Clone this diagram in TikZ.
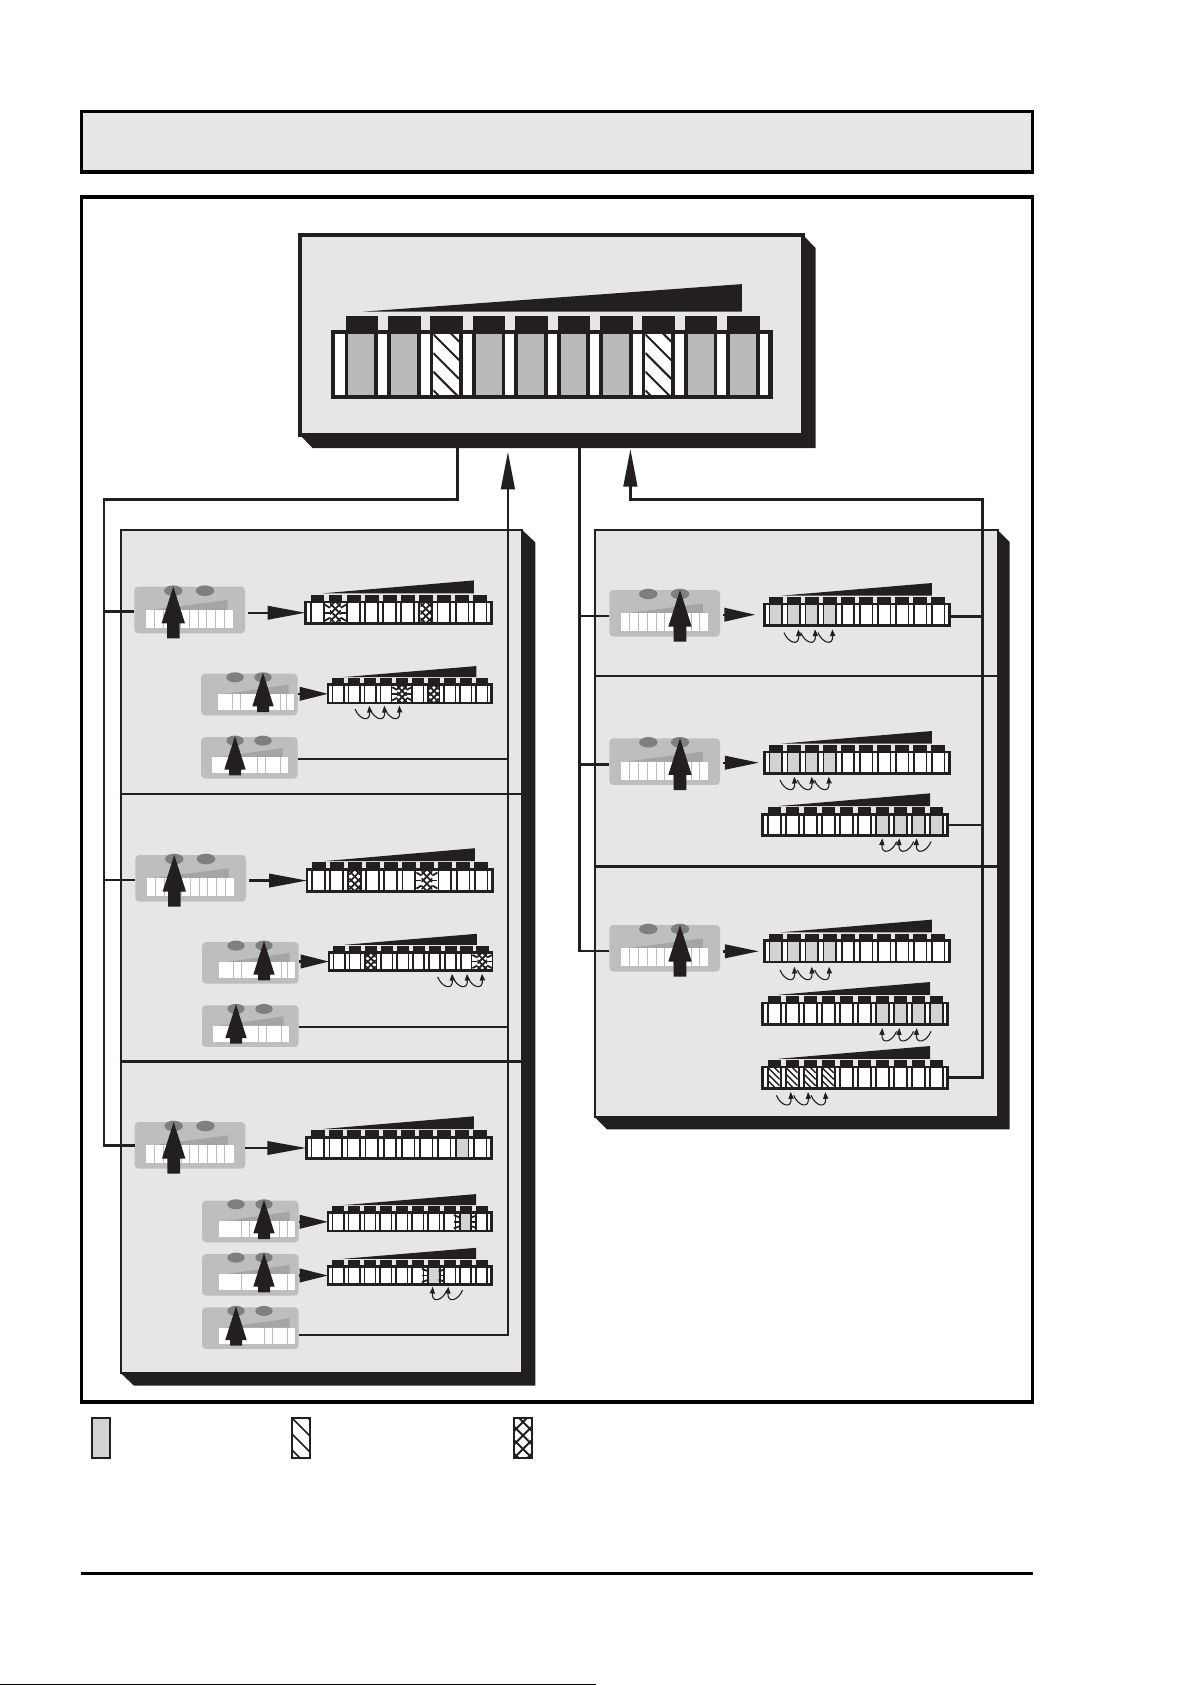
\documentclass[tikz,border=0pt]{standalone}
\usetikzlibrary{arrows.meta}

\definecolor{ink}{HTML}{231F20}
\definecolor{panelgray}{HTML}{E6E6E6}
\definecolor{cardgray}{HTML}{BEBEBE}
\definecolor{ovalgray}{HTML}{7F7F7F}
\definecolor{rampgray}{HTML}{A5A5A5}
\definecolor{bargray}{HTML}{BABABA}
\definecolor{softgray}{HTML}{D2D2D2}

\tikzset{
  plainbox/.style={rectangle,inner sep=0pt,outer sep=0pt,draw=ink},
  headerbox/.style={plainbox,draw=black,fill=panelgray,line width=1.7pt},
  framebox/.style={plainbox,draw=black,line width=1.7pt},
  mainbox/.style={plainbox,fill=panelgray,line width=2pt},
  sidebox/.style={plainbox,fill=panelgray,line width=1pt},
  stripframe/.style={plainbox,fill=white},
  legendbox/.style={plainbox,fill=white,line width=1pt},
  cardbox/.style={rectangle,inner sep=0pt,outer sep=0pt,fill=cardgray,rounded corners=2pt},
  busline/.style={draw=ink,line width=1.3pt},
  flowline/.style={draw=ink,line width=1.2pt,-{Triangle[length=#1,width=6.7pt]}},
  hopline/.style={draw=ink,line width=.55pt,-{Triangle[length=3.4pt,width=2.6pt]}},
  sidetick/.style={draw=ink,line width=.9pt}
}

% defaults of the small strips
\def\frameT{2.7}\def\wedgeL{.092}\def\wedgeR{.90}\def\divF{.0098}
\def\capF{.24}\def\wedgeF{.53}\def\gapF{.05}\def\hatchW{.7pt}

\newcommand{\boxat}[6]{%
  \node[#1,anchor=north west,minimum width={(#5-#3)*.5pt},minimum height={(#6-#4)*.5pt}] (#2) at (#3,#4) {};}

\newcommand{\drawpanel}[8]{%
  \fill[ink] (#5,#4) -- ({#5+#7},{#4+#8}) -- ({#5+#7},{#6+#8}) -- ({#3+#7},{#6+#8}) -- (#3,#6) -- cycle;
  \boxat{#1}{#2}{#3}{#4}{#5}{#6}}

\newcommand{\hatchlines}{%
  \foreach \kk in {-3,...,6}
    \draw[ink,line width=\hatchW] (\cellL,{\cellT+\kk*\hatchS}) -- (\cellR,{\cellT+\kk*\hatchS+\cellR-\cellL});}
\newcommand{\crosslines}{%
  \foreach \kk in {-3,...,6}
    \draw[ink,line width=\hatchW] (\cellR,{\cellT+\kk*\crossS}) -- (\cellL,{\cellT+\kk*\crossS+\cellR-\cellL});}
\newcommand{\cellkindw}{}
\newcommand{\cellkindg}{\fill[bargray] (\cellL,\cellT) rectangle (\cellR,\cellB);}
\newcommand{\cellkindl}{\fill[softgray] (\cellL,\cellT) rectangle (\cellR,\cellB);}
\newcommand{\cellkindh}{%
  \begin{scope}
    \clip (\cellL,\cellT) rectangle (\cellR,\cellB);
    \hatchlines
  \end{scope}}
\newcommand{\cellkindx}{%
  \begin{scope}
    \def\hatchS{\crossS}\def\hatchW{.85pt}
    \clip (\cellL,\cellT) rectangle (\cellR,\cellB);
    \hatchlines
    \crosslines
  \end{scope}}
\newcommand{\sideticks}[1]{%
  \pgfmathsetmacro\midY{(\cellT+\cellB)/2}
  \pgfmathsetmacro\spanY{\cellB-\cellT}
  \foreach \sx/\sg in {\cellL/-1,\cellR/1} {
    \draw[sidetick] (\sx,\midY) -- ({\sx+\sg*#1},\midY);
    \draw[sidetick] (\sx,{\midY-.26*\spanY}) -- ({\sx+\sg*#1},{\midY-.42*\spanY});
    \draw[sidetick] (\sx,{\midY+.26*\spanY}) -- ({\sx+\sg*#1},{\midY+.42*\spanY});
  }}
\newcommand{\cellkindX}{%
  \fill[white] ({\cellL-5},\cellT) rectangle ({\cellR+5},\cellB);
  \cellkindx
  \sideticks{5}}
\newcommand{\cellkindt}{%
  \fill[white] ({\cellL-5},\cellT) rectangle ({\cellR+5},\cellB);
  \fill[ink] ({\cellL-2},\cellT) rectangle ({\cellR+2},\cellB);
  \cellkindl
  \sideticks{7}}

% name, x, y, width, height, the ten cells
\newcommand{\drawstrip}[6]{%
  \pgfmathsetmacro\stripX{#2+\frameT/2}
  \pgfmathsetmacro\stripY{#3+\frameT/2}
  \pgfmathsetmacro\stripW{#4-\frameT}
  \pgfmathsetmacro\stripH{#5-\frameT}
  \pgfmathsetmacro\capH{#5*\capF}
  \pgfmathsetmacro\hatchS{#5*.27}
  \pgfmathsetmacro\crossS{#5*.3}
  \pgfmathsetmacro\divW{#4*\divF}
  \pgfmathsetmacro\cellT{#3+\frameT}
  \pgfmathsetmacro\cellB{#3+#5-\frameT}
  \node[stripframe,line width={\frameT*.5pt},anchor=north west,minimum width={\stripW*.5pt},minimum height={\stripH*.5pt}] (#1) at (\stripX,\stripY) {};
  \pgfmathsetmacro\wedgeB{#3-\capH-#5*\gapF}
  \fill[ink] ({#2+#4*\wedgeL},\wedgeB) -- ({#2+#4*\wedgeR},{\wedgeB-#5*\wedgeF}) -- ({#2+#4*\wedgeR},\wedgeB) -- cycle;
  \foreach \kk in {0,...,9}
    \fill[ink] ({#2+#4*(.033+.096*\kk)},{#3-\capH}) rectangle ({#2+#4*(.1066+.096*\kk)},{#3+1});
  \foreach \st [count=\i from 0] in {#6} {
    \pgfmathsetmacro\cellL{#2+#4*(.0396+.096*\i)}
    \pgfmathsetmacro\cellR{\cellL+#4*.0585}
    \fill[ink] ({\cellL-\divW},\cellT) rectangle ({\cellR+\divW},\cellB);
    \fill[white] (\cellL,\cellT) rectangle (\cellR,\cellB);
    \csname cellkind\st\endcsname
  }}

\def\cardbig{\def\cardW{110.7}\def\cardH{46.6}\def\ovalA{39}\def\ovalB{70.7}\def\ovalY{4}%
  \def\ovalRX{4.6pt}\def\ovalRY{2.65pt}\def\whiteW{87.4}\def\whiteT{23.3}\def\whiteB{41.3}\def\rampT{13.3}%
  \def\tipY{0}\def\baseY{36.6}\def\tailY{51.7}\def\headW{11.7}\def\shaftW{6.3}}
\def\cardsmall{\def\cardW{96.7}\def\cardH{41.6}\def\ovalA{34}\def\ovalB{62}\def\ovalY{3.6}%
  \def\ovalRX{4.35pt}\def\ovalRY{2.5pt}\def\whiteW{76}\def\whiteT{20.3}\def\whiteB{36.3}\def\rampT{11}%
  \def\tipY{-1}\def\baseY{32.7}\def\tailY{38.3}\def\headW{10.7}\def\shaftW{6}}
\def\keysbig{8.7,17.5,26.2,34.9,43.7,52.4,61.1,69.9,78.6}

% size, name, x, y, oval under the arrow, start of the white keys, key gaps
\newcommand{\drawcard}[7]{%
  #1%
  \edef\keylist{#7}%
  \node[cardbox,anchor=north west,minimum width={\cardW*.5pt},minimum height={\cardH*.5pt}] (#2) at (#3,#4) {};
  \fill[ovalgray] ({#3+\ovalA},{#4+\ovalY}) ellipse [x radius=\ovalRX,y radius=\ovalRY];
  \fill[ovalgray] ({#3+\ovalB},{#4+\ovalY}) ellipse [x radius=\ovalRX,y radius=\ovalRY];
  \fill[rampgray] ({#3+#6+5.5},{#4+\whiteT}) -- ({#3+#6+\whiteW-5.5},{#4+\rampT}) -- ({#3+#6+\whiteW-5.5},{#4+\whiteT}) -- cycle;
  \fill[white] ({#3+#6},{#4+\whiteT}) rectangle ({#3+#6+\whiteW},{#4+\whiteB});
  \foreach \gapX in \keylist
    \draw[cardgray,line width=.4pt] ({#3+#6+\gapX},{#4+\whiteT}) -- ({#3+#6+\gapX},{#4+\whiteB});
  \pgfmathsetmacro\arrowX{#3+#5}
  \fill[ink] (\arrowX,{#4+\tipY}) -- ({\arrowX+\headW},{#4+\baseY}) -- ({\arrowX+\shaftW},{#4+\baseY})
    -- ({\arrowX+\shaftW},{#4+\tailY}) -- ({\arrowX-\shaftW},{#4+\tailY}) -- ({\arrowX-\shaftW},{#4+\baseY})
    -- ({\arrowX-\headW},{#4+\baseY}) -- cycle;}

% level of the arrow tips, the tips, side of the tails
\newcommand{\hops}[3]{%
  \foreach \tx in {#2}
    \draw[hopline] ({\tx-(#3)*14.3},{#1+3.3}) .. controls ({\tx-(#3)*10},{#1+14}) and ({\tx+(#3)*1},{#1+17}) .. (\tx,#1);}

\begin{document}
\begin{tikzpicture}[x=.5pt,y=-.5pt]
  \useasboundingbox (0,0) rectangle (1191,1685);

  \boxat{headerbox}{header}{81.7}{111.7}{1032.4}{172}
  \boxat{framebox}{frame}{81.7}{197}{1032.4}{1402}

  \drawpanel{mainbox}{topbox}{300}{235}{803}{435}{12.5}{13}
  \drawpanel{sidebox}{panelL}{121}{530}{522.3}{1373.3}{13}{12.4}
  \drawpanel{sidebox}{panelR}{595}{530}{997.6}{1117.3}{12}{12}

  \draw[busline] (121,794) -- (522.3,794);
  \draw[busline] (121,1061.7) -- (522.3,1061.7);
  \draw[busline] (595,676) -- (997.6,676);
  \draw[busline] (595,866.7) -- (997.6,866.7);

  \begin{scope}
    \def\frameT{4.4}\def\wedgeL{.07}\def\wedgeR{.93}\def\divF{.0085}
    \def\capF{.203}\def\wedgeF{.40}\def\gapF{.062}\def\hatchW{1pt}
    \drawstrip{bigstrip}{331}{330}{441.8}{69}{g,g,h,g,g,g,g,h,g,g}
  \end{scope}

  \coordinate (outL) at (457.5,440);
  \coordinate (outR) at (579.6,440);
  \coordinate (inL) at (507.9,451.7);
  \coordinate (inR) at (630.4,449);
  \coordinate (busL) at (104,499.3);
  \coordinate (busR) at (982.7,499.3);

  % left column
  \drawcard{\cardbig}{cardA1}{134.3}{586.7}{\ovalA}{11.4}{\keysbig}
  \drawstrip{stripA1}{304.3}{600.5}{188.5}{24.5}{w,X,w,w,w,w,x,w,w,w}
  \drawcard{\cardsmall}{cardA2}{201}{673.7}{\ovalB}{17}{14.3,22.7,62,68}
  \drawstrip{stripA2}{326.7}{683.3}{166.3}{21}{w,w,w,w,X,w,x,w,w,w}
  \drawcard{\cardsmall}{cardA3}{201}{737}{\ovalA}{11}{45.3,53.3,68.7}
  \hops{705.7}{369.3,384.3,399.3}{1}

  \drawcard{\cardbig}{cardB1}{135.3}{855}{\ovalA}{11.4}{\keysbig}
  \drawstrip{stripB1}{305.7}{868.3}{188}{24.5}{w,w,x,w,w,w,X,w,w,w}
  \drawcard{\cardsmall}{cardB2}{202}{942}{\ovalB}{17}{14.3,22.7,62,68}
  \drawstrip{stripB2}{327.7}{951}{165.7}{21}{w,w,x,w,w,w,w,w,w,X}
  \drawcard{\cardsmall}{cardB3}{202}{1005.3}{\ovalA}{11}{45.3,53.3,68.7}
  \hops{973.7}{452,467,482}{1}

  \drawcard{\cardbig}{cardC1}{134.7}{1122}{\ovalA}{11.4}{\keysbig}
  \drawstrip{stripC1}{305}{1136}{187.7}{24}{w,w,w,w,w,w,w,w,l,w}
  \drawcard{\cardsmall}{cardC2}{202}{1200.7}{\ovalB}{17}{22,30,60,68}
  \drawstrip{stripC2}{326.7}{1211.3}{166}{21}{w,w,w,w,w,w,w,w,t,w}
  \drawcard{\cardsmall}{cardC3}{202}{1254}{\ovalB}{17}{22,68}
  \drawstrip{stripC3}{326.7}{1265}{166}{21}{w,w,w,w,w,w,t,w,w,w}
  \drawcard{\cardsmall}{cardC4}{202}{1307.3}{\ovalA}{17}{45.3,53.3,68}
  \hops{1286.7}{432.7,448.3}{-1}

  % right column
  \drawcard{\cardbig}{cardR1}{609.3}{590}{\ovalB}{11.7}{\keysbig}
  \drawstrip{stripR1}{763}{602.7}{187.7}{24}{l,l,l,l,w,w,w,w,w,w}
  \hops{629.3}{798.3,815,832.3}{1}

  \drawcard{\cardbig}{cardR2}{609.3}{738.3}{\ovalB}{11.7}{\keysbig}
  \drawstrip{stripR2a}{763}{750.7}{187.7}{24}{l,l,l,l,w,w,w,w,w,w}
  \hops{776.7}{794.3,811.7,828.7}{1}
  \drawstrip{stripR2b}{761.3}{813}{187.7}{24}{w,w,w,w,w,w,l,l,l,l}
  \hops{838.3}{882.3,899.3,916.7}{-1}

  \drawcard{\cardbig}{cardR3}{609.3}{925}{\ovalB}{11.7}{\keysbig}
  \drawstrip{stripR3a}{763}{939.3}{187.7}{24}{l,l,l,l,w,w,w,w,w,w}
  \hops{966.7}{794.3,811.7,829}{1}
  \drawstrip{stripR3b}{761.3}{1001.7}{187.7}{24}{w,w,w,w,w,w,l,l,l,l}
  \hops{1028}{882.3,899.3,916.7}{-1}
  \drawstrip{stripR3c}{761.3}{1065.7}{187.7}{24}{h,h,h,h,w,w,w,w,w,w}
  \hops{1092}{790.7,808,825.3}{1}

  % arrows from card to strip
  \draw[flowline=19pt] ([xshift=1.5pt]cardA1.east |- stripA1.west) -- (stripA1.west);
  \draw[flowline=14.2pt] (cardA2.east |- stripA2.west) -- (stripA2.west);
  \draw[flowline=19pt] ([xshift=1.5pt]cardB1.east |- stripB1.west) -- (stripB1.west);
  \draw[flowline=14.2pt] (cardB2.east |- stripB2.west) -- (stripB2.west);
  \draw[flowline=19.5pt] (cardC1.east |- stripC1.west) -- (stripC1.west);
  \draw[flowline=14.2pt] (cardC2.east |- stripC2.west) -- (stripC2.west);
  \draw[flowline=14.2pt] (cardC3.east |- stripC3.west) -- (stripC3.west);
  \draw[flowline=15.5pt] ([xshift=1.5pt]cardR1.east |- stripR1.west) -- ([xshift=-4.5pt]stripR1.west);
  \draw[flowline=17pt] ([xshift=1.5pt]cardR2.east |- stripR2a.west) -- ([xshift=-2.7pt]stripR2a.west);
  \draw[flowline=17pt] ([xshift=1.5pt]cardR3.east |- stripR3a.west) -- ([xshift=-2.7pt]stripR3a.west);

  % lines out of the main box
  \draw[busline] (outL) -- (outL |- busL) -- (busL) -- (busL |- cardC1.west) -- (cardC1.west);
  \draw[busline] ([yshift=-.8pt]busL |- cardA1.west) -- ([yshift=-.8pt]cardA1.west);
  \draw[busline] ([yshift=-.8pt]busL |- cardB1.west) -- ([yshift=-.8pt]cardB1.west);
  \draw[busline] (outR) -- ([yshift=-1.3pt]outR |- cardR3.west) -- ([yshift=-1.3pt]cardR3.west);
  \draw[busline] ([yshift=-1.3pt]outR |- cardR1.west) -- ([yshift=-1.3pt]cardR1.west);
  \draw[busline] ([yshift=-1.3pt]outR |- cardR2.west) -- ([yshift=-1.3pt]cardR2.west);

  % lines back to the main box
  \draw[busline,-{Triangle[length=18.8pt,width=6.8pt]}] ([yshift=-3.4pt]cardC4.east) -- ([yshift=-3.4pt]cardC4.east -| inL) -- (inL);
  \draw[busline] ([yshift=-.5pt]cardA3.east) -- ([yshift=-.5pt]cardA3.east -| inL);
  \draw[busline] ([yshift=-.5pt]cardB3.east) -- ([yshift=-.5pt]cardB3.east -| inL);
  \draw[busline,-{Triangle[length=18.8pt,width=6.8pt]}] (stripR3c.east) -- (stripR3c.east -| busR) -- (busR) -- (busR -| inR) -- (inR);
  \draw[busline] ([yshift=-1pt]stripR1.east) -- ([yshift=-1pt]stripR1.east -| busR);
  \draw[busline] (stripR2b.east) -- (stripR2b.east -| busR);

  % legend
  \boxat{legendbox}{legendA}{92}{1418}{110}{1458}
  \fill[softgray] (92,1418) rectangle (110,1458);
  \draw[ink,line width=1pt] (legendA.south west) rectangle (legendA.north east);
  \boxat{legendbox}{legendB}{292}{1418}{310}{1458}
  \begin{scope}
    \def\cellL{292}\def\cellR{310}\def\cellT{1418}\def\hatchS{16}\def\hatchW{.8pt}
    \clip (292,1418) rectangle (310,1458);
    \hatchlines
  \end{scope}
  \boxat{legendbox}{legendC}{514}{1418}{532}{1458}
  \begin{scope}
    \def\cellL{514}\def\cellR{532}\def\cellT{1413}\def\hatchS{13.5}\def\crossS{13.5}\def\hatchW{1pt}
    \clip (514,1418) rectangle (532,1458);
    \hatchlines
    \crosslines
  \end{scope}

  \node[inner sep=0pt,outer sep=0pt] (ruleA) at (80,1573.3) {};
  \node[inner sep=0pt,outer sep=0pt] (ruleB) at (1034,1573.3) {};
  \draw[black,line width=1.6pt] (ruleA) -- (ruleB);
  \draw[black,line width=.5pt] (0,1684.4) -- (596,1684.4);
\end{tikzpicture}
\end{document}
